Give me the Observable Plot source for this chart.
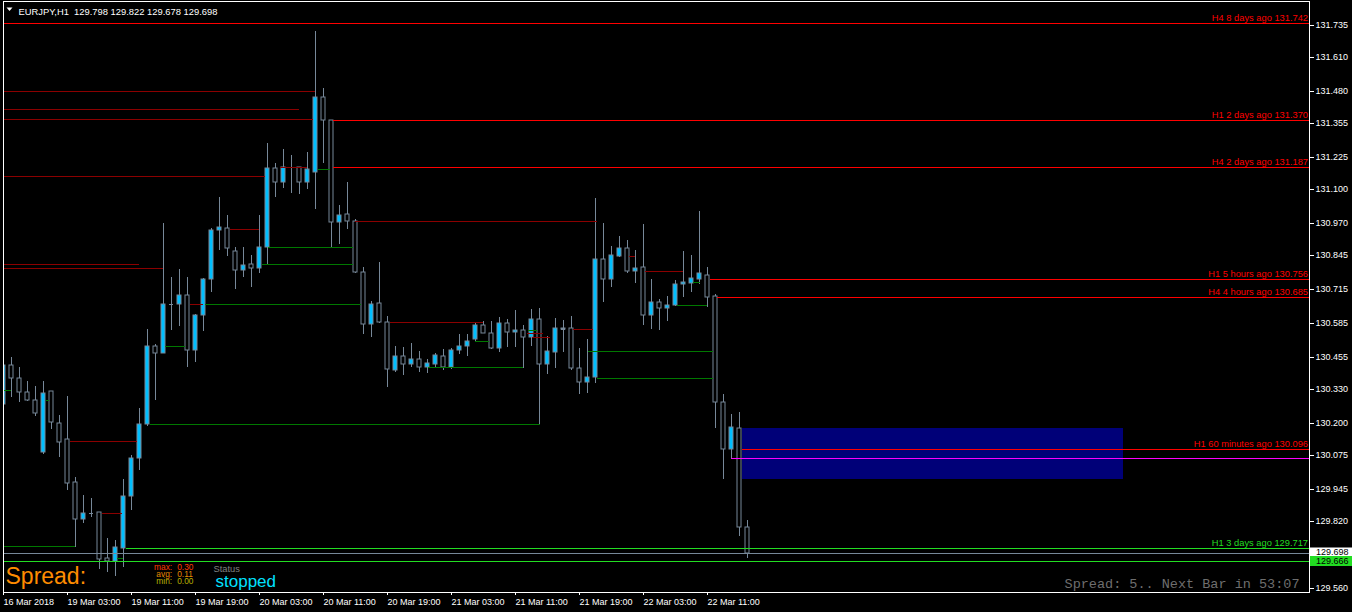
<!DOCTYPE html>
<html><head><meta charset="utf-8">
<script src="https://cdn.jsdelivr.net/npm/d3@7"></script>
<script src="https://cdn.jsdelivr.net/npm/@observablehq/plot@0.6"></script>
<style>
html,body{margin:0;padding:0;background:#000;}
#chart{width:1352px;height:612px;overflow:hidden;}
svg text{white-space:pre;}
</style></head><body><div id="chart"></div>
<script>
// ---------- DATA ----------
const symbol = "EURJPY,H1";
const opens = [130.272,130.422,130.372,130.318,130.287,130.086,130.322,130.198,130.137,129.970,
129.828,129.851,129.855,129.677,129.665,129.716,129.916,130.063,130.194,130.496,
130.469,130.658,130.658,130.692,130.480,130.615,130.754,130.943,130.951,130.862,
130.789,130.812,130.797,130.878,131.183,131.129,131.187,131.187,131.129,131.167,
131.457,131.368,130.974,131.005,130.978,130.781,130.581,130.662,130.588,130.403,
130.457,130.426,130.445,130.415,130.426,130.457,130.415,130.480,130.496,130.523,
130.577,130.546,130.488,130.584,130.550,130.557,130.530,130.600,130.426,130.472,
130.563,130.565,130.411,130.357,130.376,130.831,130.754,130.843,130.874,130.785,
130.801,130.615,130.665,130.642,130.654,130.735,130.739,130.754,130.770,130.689,
130.279,130.098,130.179,129.798];
const highs = [130.449,130.453,130.415,130.361,130.341,130.361,130.322,130.229,130.302,129.990,
129.920,129.909,129.855,129.754,129.747,129.982,130.075,130.256,130.561,130.503,
130.970,130.762,130.793,130.762,130.619,130.758,130.951,131.071,131.001,130.878,
130.878,130.847,131.001,131.279,131.202,131.256,131.233,131.187,131.245,131.712,
131.492,131.368,131.040,131.129,130.986,130.801,130.669,130.820,130.611,130.496,
130.492,130.507,130.476,130.445,130.469,130.484,130.488,130.542,130.542,130.584,
130.592,130.592,130.608,130.600,130.635,130.577,130.638,130.642,130.534,130.604,
130.596,130.611,130.488,130.523,131.067,130.970,130.882,130.920,130.905,130.866,
130.967,130.754,130.677,130.689,130.750,130.862,130.847,131.017,130.801,130.696,
130.310,130.233,130.241,129.822];
const lows = [130.256,130.299,130.279,130.283,130.225,130.079,130.175,130.067,129.940,129.720,
129.812,129.835,129.635,129.623,129.608,129.642,129.862,130.017,130.187,130.287,
130.469,130.557,130.573,130.415,130.434,130.554,130.704,130.866,130.843,130.716,
130.762,130.723,130.777,130.812,131.071,131.106,131.086,131.082,131.102,131.025,
131.202,130.874,130.889,130.947,130.777,130.542,130.530,130.584,130.337,130.395,
130.384,130.415,130.395,130.391,130.415,130.403,130.407,130.465,130.457,130.515,
130.546,130.484,130.472,130.492,130.492,130.411,130.496,130.194,130.387,130.411,
130.472,130.403,130.310,130.314,130.353,130.665,130.723,130.839,130.777,130.739,
130.577,130.561,130.557,130.592,130.650,130.685,130.704,130.735,130.646,130.179,
129.982,130.063,129.762,129.678];
const closes = [130.422,130.372,130.318,130.287,130.237,130.314,130.202,130.125,129.967,129.828,
129.851,129.852,129.673,129.665,129.720,129.916,130.063,130.194,130.496,130.469,
130.658,130.657,130.692,130.480,130.615,130.754,130.943,130.955,130.874,130.789,
130.808,130.797,130.878,131.183,131.129,131.187,131.186,131.129,131.179,131.457,
131.368,130.974,131.001,130.978,130.781,130.581,130.658,130.588,130.407,130.457,
130.426,130.445,130.415,130.430,130.461,130.415,130.480,130.496,130.515,130.577,
130.546,130.488,130.584,130.550,130.557,130.530,130.600,130.426,130.476,130.565,
130.565,130.411,130.357,130.376,130.831,130.754,130.847,130.874,130.785,130.797,
130.615,130.665,130.642,130.654,130.735,130.743,130.758,130.777,130.685,130.279,
130.098,130.183,129.797,129.698];

const xTickIdx = [0,8,16,24,32,40,48,56,64,72,80,88];
const xTickLabels = ["16 Mar 2018","19 Mar 03:00","19 Mar 11:00","19 Mar 19:00","20 Mar 03:00","20 Mar 11:00",
  "20 Mar 19:00","21 Mar 03:00","21 Mar 11:00","21 Mar 19:00","22 Mar 03:00","22 Mar 11:00"];
const yTicks = [131.735,131.610,131.480,131.355,131.225,131.100,130.970,130.845,130.715,130.585,
  130.455,130.330,130.200,130.075,129.945,129.820,129.560];

// historical (dark) levels: price, start bar, end bar
const redLevelPrice = [131.480,131.411,131.372,131.152,131.187,130.812,130.797,130.947,130.658,130.129,
  129.851,130.978,130.588,130.546,130.530,130.561,130.843,130.785];
const redLevelStart = [0,0,0,0,34.6,0,0,28.4,23.4,8.4,12.4,44,48.4,65.5,66.1,71.25,78.25,80.25];
const redLevelEnd   = [39,37,38.75,32.75,38,17,20,32,25,16.75,14.9,74.25,60,67.5,68.4,73.75,79,85];
const greenLevelPrice = [129.723,130.326,130.287,130.194,129.677,131.179,130.878,130.812,130.658,130.496,
  130.515,130.415,130.557,130.476,130.372,130.654,130.743];
const greenLevelStart = [0,0,5.4,18.4,14.25,39.4,33.1,32.4,25.25,20.25,59,53.1,65.6,73.1,74.25,84.25,86.25];
const greenLevelEnd   = [9,1,5.8,67.1,15,40.9,43.75,43.75,44.75,22.75,60.75,65,66.75,88.75,88.75,88,87.1];

// active levels extending to the right edge
const activePrice = [131.742,131.370,131.187,130.756,130.685,130.096,130.063,129.717,129.698,129.666];
const activeStart = [0,41.25,41.25,88.4,89.25,92.4,91,15.4,0,0];
const activeKind  = ["red","red","red","red","red","red","magenta","green","bid","green"];
const activeLabel = ["H4 8 days ago 131.742","H1 2 days ago 131.370","H4 2 days ago 131.187",
  "H1 5 hours ago 130.756","H4 4 hours ago 130.685","H1 60 minutes ago 130.096","",
  "H1 3 days ago 129.717","",""];

const zone = {start: 92.35, end: 140, low: 129.982, high: 130.179};
const spreadStats = [["max:", "0.30"], ["avg:", "0.11"], ["min:", "0.00"]];
const statusText = "stopped";
const footerText = "Spread: 5.. Next Bar in 53:07";

// ---------- STYLE ----------
const C = {wick:"#778899", bull:"#00bfff", bear:"#000000", red:"#ff0000", dred:"#8b0000",
  dgreen:"#007800", green:"#22dd22", magenta:"#ff00ff", bid:"#778899", zone:"#000078"};
const kindColor = {red:C.red, green:C.green, magenta:C.magenta, bid:C.bid};
const statColors = ["#ff3c00","#e88a00","#b8b000"];
const font = "'Liberation Sans', Arial, sans-serif";

const candles = opens.map((o,i)=>({i, o, h:highs[i], l:lows[i], c:closes[i]}));
const X_MAX = 163.25;
const levels = [
  ...redLevelPrice.map((p,k)=>({p, a:redLevelStart[k], b:redLevelEnd[k], col:C.dred})),
  ...greenLevelPrice.map((p,k)=>({p, a:greenLevelStart[k], b:greenLevelEnd[k], col:C.dgreen})),
];
const active = activePrice.map((p,k)=>({p, a:activeStart[k], b:X_MAX, col:kindColor[activeKind[k]], t:activeLabel[k]}));
const last = candles[candles.length-1];
const header = `${symbol}  ${last.o.toFixed(3)} ${last.h.toFixed(3)} ${last.l.toFixed(3)} ${last.c.toFixed(3)}`;

const statDy = [-23, -15.6, -8.2];

const plot = Plot.plot({
  width:1352, height:612,
  marginLeft:3, marginRight:43, marginTop:1, marginBottom:20,
  style:{background:"#000", color:"white", fontFamily:font, overflow:"visible"},
  x:{domain:[0,X_MAX], round:true, axis:null},
  y:{domain:[129.5458,131.8276], round:true, axis:null},
  color:{type:"identity"},
  marks:[
    Plot.rect([zone], {x1:"start", x2:"end", y1:"low", y2:"high", fill:C.zone}),
    Plot.ruleX(candles, {x:"i", y1:"l", y2:"h", stroke:C.wick, clip:true}),
    Plot.rect(candles, {x1:d=>d.i-0.28, x2:d=>d.i+0.28, y1:"o", y2:"c",
      fill:d=>d.c>d.o?C.bull:C.bear, stroke:C.wick, clip:true}),
    Plot.ruleY(candles.filter(d=>Math.abs(d.o-d.c)<0.003), {y:"o", x1:d=>d.i-0.28, x2:d=>d.i+0.28, stroke:C.wick, clip:true}),
    Plot.ruleY(levels, {y:"p", x1:"a", x2:"b", stroke:"col", clip:true}),
    Plot.ruleY(active, {y:"p", x1:"a", x2:"b", stroke:"col", clip:true}),
    Plot.text(active.filter(d=>d.t), {y:"p", text:"t", frameAnchor:"right", textAnchor:"end",
      lineAnchor:"bottom", dx:-1.5, dy:-2.5, fill:"col", fontSize:9.3, fontFamily:font}),
    Plot.axisY({anchor:"right", ticks:yTicks, tickFormat:d=>d.toFixed(3), tickSize:4, tickPadding:2,
      fontSize:9, color:"white", fontFamily:font}),
    Plot.axisX({anchor:"bottom", ticks:xTickIdx, tickFormat:d=>xTickLabels[xTickIdx.indexOf(d)],
      textAnchor:"start", tickSize:3, tickPadding:3, fontSize:9, color:"white", fontFamily:font}),
    Plot.frame({stroke:"white"}),
    Plot.text([header], {frameAnchor:"top-left", dx:15, dy:13, lineAnchor:"bottom", textAnchor:"start",
      fill:"white", fontSize:9.4, fontFamily:font}),
    Plot.text(["Spread:"], {frameAnchor:"bottom-left", dx:2, dy:-8.5, lineAnchor:"bottom", textAnchor:"start",
      fill:"#ff8c00", fontSize:23, fontFamily:font}),
    ...spreadStats.map((s,k)=>Plot.text([s[0]], {frameAnchor:"bottom-left", dx:168.7, dy:statDy[k],
      lineAnchor:"bottom", textAnchor:"end", fill:statColors[k], fontSize:8.4, fontFamily:font})),
    ...spreadStats.map((s,k)=>Plot.text([s[1]], {frameAnchor:"bottom-left", dx:173.7, dy:statDy[k],
      lineAnchor:"bottom", textAnchor:"start", fill:statColors[k], fontSize:8.4, fontFamily:font})),
    Plot.text(["Status"], {frameAnchor:"bottom-left", dx:210, dy:-21, lineAnchor:"bottom", textAnchor:"start",
      fill:"#808080", fontSize:9.3, fontFamily:font}),
    Plot.text([statusText], {frameAnchor:"bottom-left", dx:212, dy:-5.5, lineAnchor:"bottom", textAnchor:"start",
      fill:"#00e0ff", fontSize:17, fontFamily:font}),
    Plot.text([footerText], {frameAnchor:"bottom-right", dx:-10, dy:-5, lineAnchor:"bottom", textAnchor:"end",
      fill:"#6e6e6e", fontSize:13.5, fontFamily:"'Liberation Mono', 'Courier New', monospace"})
  ]
});

// price boxes on the right scale
const ys = plot.scale("y");
const svg = d3.select(plot);
svg.append("path").attr("d","M6.5,7.5H12.5L9.5,11Z").attr("fill","white");
const boxes = [
  {p:activePrice[8], bg:"#ffffff", up:5.5, down:3.5},
  {p:activePrice[9], bg:C.green, up:5, down:5}
];
boxes.forEach(b=>{
  const y = ys.apply(b.p);
  svg.append("rect").attr("x",1310).attr("y",y-b.up).attr("width",42).attr("height",b.up+b.down).attr("fill",b.bg);
  svg.append("text").attr("x",1316).attr("y",y-(b.up-b.down)/2).attr("dy","0.32em")
    .attr("text-anchor","start")
    .attr("font-size",9).attr("font-family",font).attr("fill","#000").text(b.p.toFixed(3));
});
document.getElementById("chart").appendChild(plot);
</script></body></html>
